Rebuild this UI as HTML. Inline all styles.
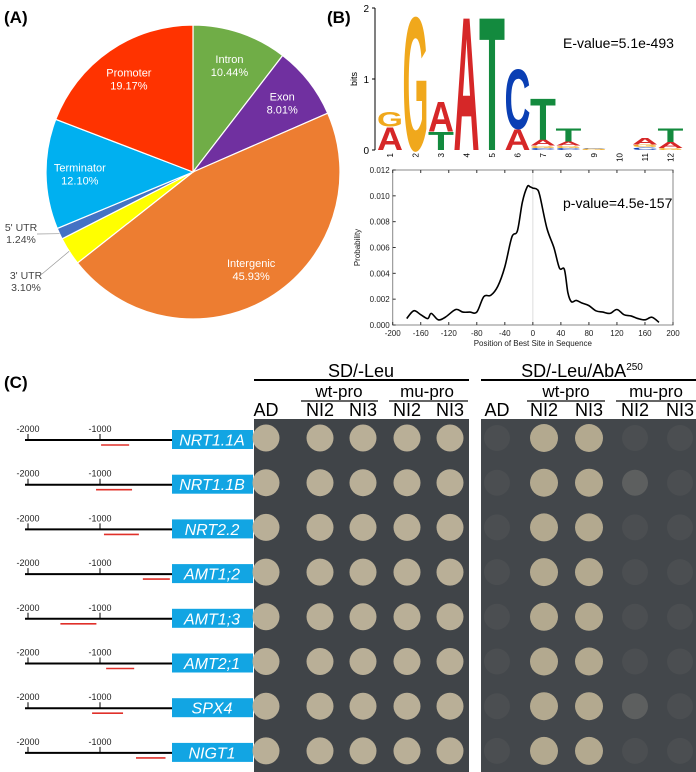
<!DOCTYPE html>
<html><head><meta charset="utf-8"><style>
html,body{margin:0;padding:0;background:#fff;}
svg{display:block;font-family:"Liberation Sans",Arial,sans-serif;}
</style></head><body>
<svg id="fig" width="696" height="772" viewBox="0 0 696 772" xmlns="http://www.w3.org/2000/svg">
<g id="pie"></g>
<g id="logo"></g>
<g id="line"></g>
<g id="panelC"></g>
<text x="4" y="23" font-size="17" font-weight="bold">(A)</text>
<text x="327" y="23" font-size="17" font-weight="bold">(B)</text>
<text x="4" y="388" font-size="17" font-weight="bold">(C)</text>
</svg>
<script>
const NS="http://www.w3.org/2000/svg";
// ---- Pie data ----
const pieLabels=["Intron","Exon","Intergenic","3' UTR","5' UTR","Terminator","Promoter"];
const pieValues=[10.44,8.01,45.93,3.10,1.24,12.10,19.17];
const pieColors=["#70ad47","#7030a0","#ed7d31","#ffff00","#4472c4","#00b0f0","#ff3300"];
// ---- Logo data (bits, stacked bottom->top) ----
const logoColumns=[1,2,3,4,5,6,7,8,9,10,11,12];
const logoStacks=[
 [["A",0.33],["G",0.22]],
 [["G",1.95]],
 [["T",0.26],["A",0.44]],
 [["A",1.95]],
 [["T",1.95]],
 [["A",0.3],["C",0.87]],
 [["C",0.03],["G",0.03],["A",0.08],["T",0.61]],
 [["C",0.03],["G",0.03],["A",0.06],["T",0.19]],
 [["G",0.02],["C",0.01]],
 [],
 [["C",0.04],["G",0.04],["A",0.09]],
 [["G",0.03],["A",0.08],["T",0.2]]
];
const letterColors={A:"#d62728",C:"#0a3fb4",G:"#f0a81c",T:"#138a3e"};
// ---- Line chart data ----
const posValues=[-180,-170,-160,-150,-145,-135,-125,-110,-100,-90,-80,-70,-60,-50,-40,-30,-22,-15,-8,-4,0,6,10,20,30,38,45,50,55,62,70,80,90,100,110,120,130,140,150,160,170,180];
const probValues=[0.0005,0.0011,0.0008,0.0005,0.0009,0.0004,0.0006,0.0012,0.0010,0.0010,0.0010,0.0022,0.0023,0.0030,0.0045,0.0068,0.0073,0.0095,0.0107,0.0107,0.0106,0.0105,0.0100,0.0075,0.0060,0.0044,0.0043,0.0025,0.0018,0.0019,0.0017,0.0015,0.0011,0.0010,0.0009,0.0012,0.0008,0.0007,0.0005,0.0004,0.0006,0.0002];
const yTicks=[0,0.002,0.004,0.006,0.008,0.010,0.012];
const xTicks=[-200,-160,-120,-80,-40,0,40,80,120,160,200];
// ---- Panel C data ----
const genes=["NRT1.1A","NRT1.1B","NRT2.2","AMT1;2","AMT1;3","AMT2;1","SPX4","NIGT1"];
const siteStart=[-985,-1055,-945,-405,-1550,-915,-1110,-500];
const siteEnd=[-595,-555,-460,-30,-1050,-525,-680,-90];
const plateCols=["AD","NI2","NI3","NI2","NI3"];
// growth on AbA plate: 1 = strong, 0 = weak
const abaGrowth=[
 [0,1,1,0,0],[0,1,1,0.2,0],[0,1,1,0,0],[0,1,1,0,0],[0,1,1,0,0],[0,1,1,0,0],[0,1,1,0.2,0],[0,1,1,0,0]
];

function el(tag,attrs,parent,text){const e=document.createElementNS(NS,tag);for(const k in attrs)e.setAttribute(k,attrs[k]);if(text!==undefined)e.textContent=text;parent.appendChild(e);return e;}

// ===== Pie =====
(function(){
 const g=document.getElementById('pie');const cx=193,cy=172,r=147;
 const total=pieValues.reduce((a,b)=>a+b,0);let acc=0;
 pieValues.forEach((v,i)=>{
  const a0=acc/total*2*Math.PI;acc+=v;const a1=acc/total*2*Math.PI;
  const x0=cx+r*Math.sin(a0),y0=cy-r*Math.cos(a0),x1=cx+r*Math.sin(a1),y1=cy-r*Math.cos(a1);
  const large=(a1-a0)>Math.PI?1:0;
  const p=el('path',{d:`M${cx},${cy} L${x0},${y0} A${r},${r} 0 ${large} 1 ${x1},${y1} Z`,fill:pieColors[i],stroke:'#fff','stroke-width':1.2},g);
  
  
  const am=(a0+a1)/2;
  if(v>=5){
   const lx=cx+0.77*r*Math.sin(am),ly=cy-0.77*r*Math.cos(am);
   const t=el('text',{x:lx,y:ly-2,'font-size':11,fill:'#fff','text-anchor':'middle'},g,pieLabels[i]);
   
   
   const t2=el('text',{x:lx,y:ly+11,'font-size':11,fill:'#fff','text-anchor':'middle'},g,v.toFixed(2)+'%');
   
   
  } else {
   const ex=cx+r*Math.sin(am),ey=cy-r*Math.cos(am);
   const ly=v<2?234:282;const lx=v<2?21:26;
   const ln=el('line',{x1:ex,y1:ey,x2:lx+16,y2:ly+(v<2?0:-8),stroke:'#999','stroke-width':0.7},g);
   
   
   const t=el('text',{x:lx,y:ly-3,'font-size':10.5,fill:'#444','text-anchor':'middle'},g,pieLabels[i]);
   
   
   const t2=el('text',{x:lx,y:ly+9,'font-size':10.5,fill:'#444','text-anchor':'middle'},g,v.toFixed(2)+'%');
   
   
  }
 });
})();

// ===== Logo =====
(function(){
 const g=document.getElementById('logo');
 const y0=150,pxBit=71,x0=390,step=25.5,w=24;
 const adv={A:72.2,C:72.2,G:77.8,T:61.1};
 el('line',{x1:375,y1:8,x2:375,y2:150,stroke:'#000','stroke-width':1},g);
 [0,1,2].forEach(b=>{const y=y0-b*pxBit;el('line',{x1:372,y1:y,x2:375,y2:y,stroke:'#000'},g);
  const t=el('text',{x:369,y:y+4,'font-size':10,'text-anchor':'end'},g,String(b));
  
  });
 const bt=el('text',{x:0,y:0,'font-size':9,'text-anchor':'middle',transform:'translate(357,79) rotate(-90)'},g,'bits');
 
 
 logoColumns.forEach((c,i)=>{
  const cxp=x0+i*step;
  const lt=el('text',{x:0,y:0,'font-size':8,'text-anchor':'end',transform:`translate(${cxp+3},${y0+3}) rotate(-90)`},g,String(c));
  
  
  let base=y0;
  logoStacks[i].forEach(([L,h])=>{
   const hp=h*pxBit; if(hp<0.5){return;}
   const sx=1.08*w/adv[L], sy=hp/72.5;
   const t=el('text',{x:0,y:0,'font-size':100,'font-weight':'bold','text-anchor':'middle',fill:letterColors[L],transform:`translate(${cxp},${base}) scale(${sx},${sy})`},g,L);
   
   
   base-=hp;
  });
 });
 const ev=el('text',{x:563,y:48,'font-size':14},g,'E-value=5.1e-493');
 
 
})();

// ===== Line chart =====
(function(){
 const g=document.getElementById('line');
 const L=392.7,R=673,T=170,B=325;
 const xs=v=>L+(v+200)/400*(R-L), ys=v=>B-v/0.012*(B-T);
 el('rect',{x:L,y:T,width:R-L,height:B-T,fill:'#fff',stroke:'#888','stroke-width':1},g);
 el('line',{x1:xs(0),y1:T,x2:xs(0),y2:B,stroke:'#ddd','stroke-width':1},g);
 yTicks.forEach(v=>{const y=ys(v);el('line',{x1:L,y1:y,x2:L+3,y2:y,stroke:'#333'},g);
  const t=el('text',{x:L-3,y:y+3,'font-size':8,'text-anchor':'end',fill:'#222'},g,v.toFixed(3));
  
  });
 xTicks.forEach(v=>{const x=xs(v);el('line',{x1:x,y1:B,x2:x,y2:B-3,stroke:'#333'},g);el('line',{x1:x,y1:T,x2:x,y2:T+3,stroke:'#333'},g);
  const t=el('text',{x:x,y:B+11,'font-size':8,'text-anchor':'middle',fill:'#222'},g,String(v));
  
  });
 const xt=el('text',{x:(L+R)/2,y:B+21,'font-size':8,'text-anchor':'middle',fill:'#222'},g,'Position of Best Site in Sequence');
 
 
 const yt=el('text',{x:0,y:0,'font-size':8,'text-anchor':'middle',fill:'#222',transform:`translate(360,${(T+B)/2}) rotate(-90)`},g,'Probability');
 
 
 const pts=posValues.map((p,i)=>[xs(p),ys(probValues[i])]);
 let d=`M${pts[0][0]},${pts[0][1]}`;
 for(let i=0;i<pts.length-1;i++){const p0=pts[Math.max(0,i-1)],p1=pts[i],p2=pts[i+1],p3=pts[Math.min(pts.length-1,i+2)];
  const c1=[p1[0]+(p2[0]-p0[0])/6,p1[1]+(p2[1]-p0[1])/6],c2=[p2[0]-(p3[0]-p1[0])/6,p2[1]-(p3[1]-p1[1])/6];
  d+=` C${c1[0]},${c1[1]} ${c2[0]},${c2[1]} ${p2[0]},${p2[1]}`;}
 const path=el('path',{d:d,fill:'none',stroke:'#000','stroke-width':1.6},g);
 
 
 const pv=el('text',{x:563,y:208,'font-size':14},g,'p-value=4.5e-157');
 
 
})();

// ===== Panel C =====
(function(){
 const g=document.getElementById('panelC');
 const rowY=i=>440+i*44.7;
 const bx=v=>172+v*0.072;
 const lp=el('rect',{x:254,y:419,width:215,height:353,fill:'#404448'},g);
 
 
 const rp=el('rect',{x:481,y:419,width:215,height:353,fill:'#43474b'},g);
 
 
 const lcx=[266,320,363,407,450], rcx=[497,544,589,635,680];
 function hdr(txt,x,y,fs,name){const t=el('text',{x:x,y:y,'font-size':fs,'text-anchor':'middle'},g,txt);return t;}
 hdr('SD/-Leu',361,377,18,'sd-leu-header');
 const ah=hdr('SD/-Leu/AbA',582,377,18,'sd-leu-aba-header');
 el('tspan',{'font-size':10,dy:-7},ah,'250');
 el('line',{x1:254,y1:380,x2:469,y2:380,stroke:'#000','stroke-width':2},g);
 el('line',{x1:481,y1:380,x2:696,y2:380,stroke:'#000','stroke-width':2},g);
 hdr('wt-pro',339,397,17,'wt-pro-header');hdr('mu-pro',427,397,17,'mu-pro-header');
 hdr('wt-pro',566,397,17,'wt-pro-header');hdr('mu-pro',656,397,17,'mu-pro-header');
 [[301,378],[389,468],[527,605],[616,696]].forEach(([a,b])=>el('line',{x1:a,y1:401,x2:b,y2:401,stroke:'#666','stroke-width':2},g));
 plateCols.forEach((c,j)=>{hdr(c,lcx[j],416,18,'column-label-'+c.toLowerCase());hdr(c,rcx[j],416,18,'column-label-'+c.toLowerCase());});
 genes.forEach((gn,i)=>{
  const y=rowY(i);
  el('line',{x1:25,y1:y,x2:172,y2:y,stroke:'#000','stroke-width':2},g);
  [-2000,-1000].forEach(v=>{el('line',{x1:bx(v),y1:y-6,x2:bx(v),y2:y,stroke:'#000','stroke-width':1},g);
   const t=el('text',{x:bx(v),y:y-8,'font-size':9,'text-anchor':'middle',fill:'#222'},g,String(v));
   
   });
  const rs=el('line',{x1:bx(siteStart[i]),y1:y+5,x2:bx(siteEnd[i]),y2:y+5,stroke:'#e0302a','stroke-width':1.6},g);
  
  
  const box=el('rect',{x:172,y:y-10,width:81,height:19,fill:'#12a5e3'},g);
  
  
  const t=el('text',{x:212,y:y+5.5,'font-size':16,'font-style':'italic',fill:'#fff','text-anchor':'middle'},g,gn);
  
  
  const cy=y-2;
  lcx.forEach(x=>{const c=el('circle',{cx:x,cy:cy,r:13.5,fill:'#b9af97'},g);
   
   });
  rcx.forEach((x,j)=>{const gr=abaGrowth[i][j];
   const col=gr>=1?'#b3a98f':(gr>0?'#5d5f5f':'#4b4e51');
   const c=el('circle',{cx:x,cy:cy,r:gr>=1?14:13,fill:col},g);
   
   });
 });
})();
</script>
</body></html>
